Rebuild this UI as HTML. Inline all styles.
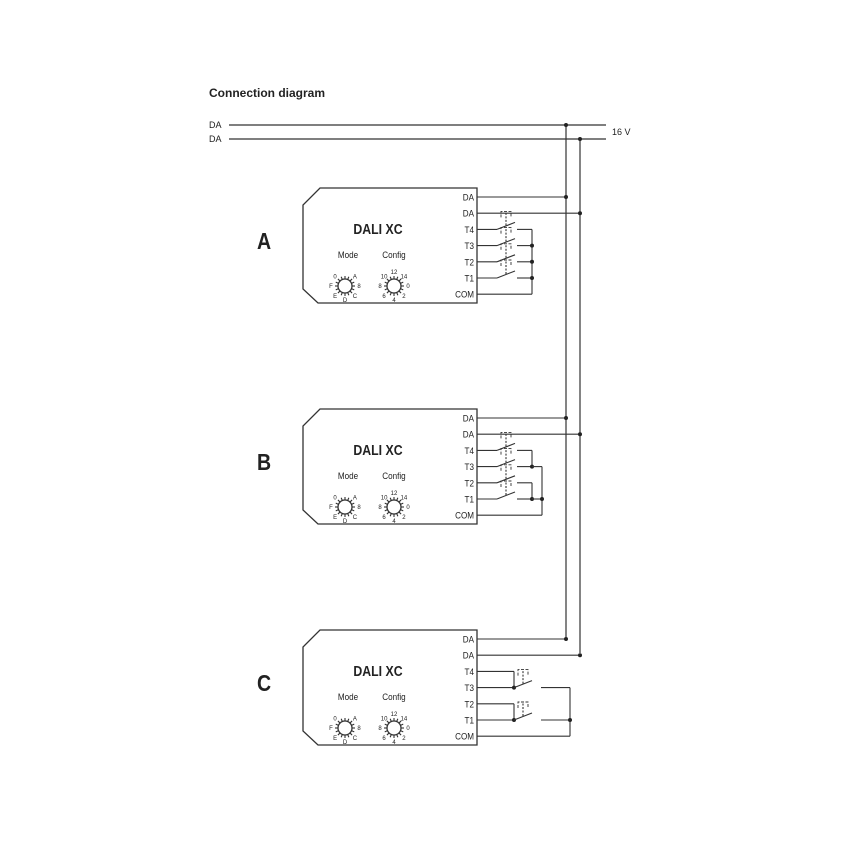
<!DOCTYPE html>
<html><head><meta charset="utf-8"><style>
html,body{margin:0;padding:0;background:#fff;}
svg{display:block;}
text{font-family:"Liberation Sans",sans-serif;fill:#222;}
</style></head><body>
<svg id="s" width="850" height="850" viewBox="0 0 850 850" xmlns="http://www.w3.org/2000/svg">
<text x="209" y="97" font-size="12" font-weight="bold">Connection diagram</text>
<g stroke="#333" stroke-width="1.2" fill="none">
<line x1="229" y1="125" x2="606" y2="125"/>
<line x1="229" y1="139" x2="606" y2="139"/>
<line x1="566" y1="125" x2="566" y2="637"/>
<line x1="580" y1="139" x2="580" y2="653"/>
</g>
<text x="209" y="128" font-size="9">DA</text>
<text x="209" y="142" font-size="9">DA</text>
<text x="612" y="135" font-size="9">16 V</text>
<circle cx="566" cy="125" r="2" fill="#222"/>
<circle cx="580" cy="139" r="2" fill="#222"/>
<g id="g"></g>
</svg>
<script>
var g=document.getElementById('g'),h='';
function L(a,b,c,d,ex){h+='<line x1="'+a+'" y1="'+b+'" x2="'+c+'" y2="'+d+'" stroke="#333" stroke-width="1.1" '+(ex||'')+'/>';}
function D(x,y){h+='<circle cx="'+x+'" cy="'+y+'" r="2" fill="#222"/>';}
function T(x,y,s,sz,anc,w,sx){
  var tr=sx?' transform="translate('+x+' '+y+') scale('+sx+' 1)"':'';
  var xx=sx?0:x,yy=sx?0:y;
  h+='<text x="'+xx+'" y="'+yy+'" font-size="'+sz+'" text-anchor="'+(anc||'start')+'"'+(w?' font-weight="bold"':'')+tr+'>'+s+'</text>';}
function sw(x,y){
  L(x,y,x+18,y-7);
  h+='<path d="M'+(x+4)+' '+(y-12)+' v-6 h10 v6" fill="none" stroke="#333" stroke-width="0.9" stroke-dasharray="3,1.5"/>';
  L(x+9,y-4,x+9,y-17,'stroke-dasharray="2,1.5" stroke-width="0.8"');
}
function knob(cx,cy,labels){
  h+='<circle cx="'+cx+'" cy="'+cy+'" r="7" fill="#fff" stroke="#333" stroke-width="1.3"/>';
  for(var i=0;i<16;i++){var a=i/16*2*Math.PI;L(cx+7*Math.cos(a),cy+7*Math.sin(a),cx+10*Math.cos(a),cy+10*Math.sin(a),'stroke-width="0.8"');}
  for(var i=0;i<labels.length;i++){var a=(i/labels.length)*2*Math.PI-Math.PI/2;T(cx+14*Math.cos(a),cy+14*Math.sin(a)+2.2,labels[i],6,'middle');}
}
function box(o,letter,kind){
  var y=188+o;
  h+='<path d="M320 '+y+' H477 V'+(y+115)+' H318 L303 '+(y+101)+' V'+(y+17)+' Z" fill="#fff" stroke="#333" stroke-width="1.3"/>';
  T(378,y+46,'DALI XC',15,'middle',1,0.82);
  T(264,y+61,letter,23,'middle',1,0.85);
  T(348,y+70,'Mode',9,'middle',0,0.9);T(394,y+70,'Config',9,'middle',0,0.9);
  knob(345,y+98,['','A','8','C','D','E','F','0']);
  knob(394,y+98,['12','14','0','2','4','6','8','10']);
  var pins=['DA','DA','T4','T3','T2','T1','COM'];
  for(var i=0;i<7;i++){var py=y+9+i*16.2;T(474,py+3.5,pins[i],9,'end',0,0.9);}
  var P=function(i){return Math.round((y+9+i*16.2)*10)/10;};
  L(477,P(0),566,P(0));D(566,P(0));L(477,P(1),580,P(1));D(580,P(1));
  if(kind=='A'){
    for(var i=2;i<6;i++){L(477,P(i),497,P(i));sw(497,P(i));L(517,P(i),532,P(i));}
    L(532,P(2),532,P(6));L(477,P(6),532,P(6));D(532,P(3));D(532,P(4));D(532,P(5));
  } else if(kind=='B'){
    for(var i=2;i<6;i++){L(477,P(i),497,P(i));sw(497,P(i));L(517,P(i),532,P(i));}
    L(532,P(2),532,P(3));D(532,P(3));L(532,P(3),542,P(3));
    L(532,P(4),532,P(5));D(532,P(5));L(532,P(5),542,P(5));
    L(542,P(3),542,P(6));D(542,P(5));L(477,P(6),542,P(6));
  } else {
    L(477,P(2),514,P(2));L(514,P(2),514,P(3));L(477,P(3),514,P(3));D(514,P(3));sw(514,P(3));L(541,P(3),570,P(3));
    L(477,P(4),514,P(4));L(514,P(4),514,P(5));L(477,P(5),514,P(5));D(514,P(5));sw(514,P(5));L(541,P(5),570,P(5));
    L(570,P(3),570,P(6));D(570,P(5));L(477,P(6),570,P(6));
  }
}
box(0,'A','A');box(221,'B','B');box(442,'C','C');
g.innerHTML=h;
</script>
</body></html>
